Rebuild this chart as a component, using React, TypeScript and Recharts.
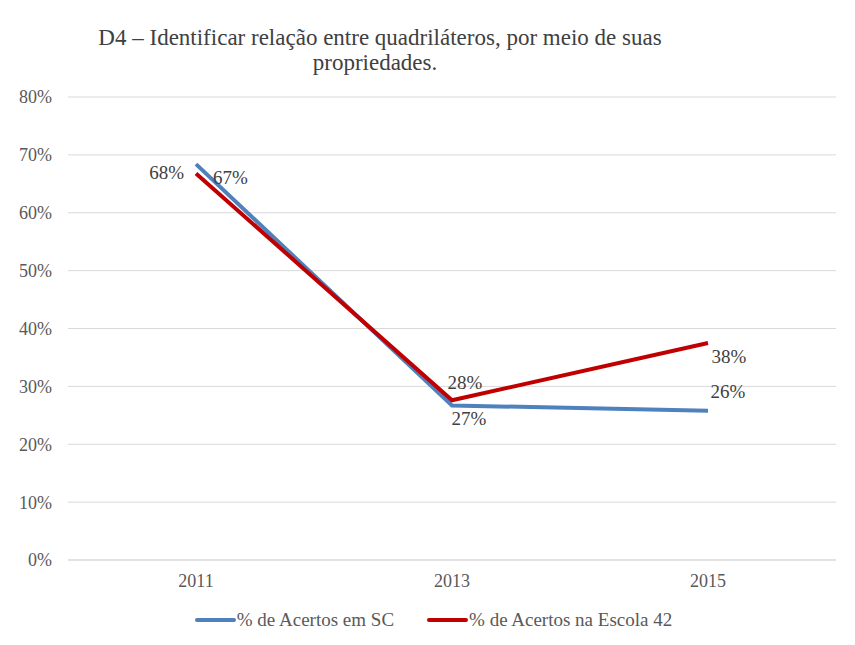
import React from "react";
import { LineChart, Line, XAxis, YAxis, CartesianGrid, LabelList } from "recharts";

const years = ["2011", "2013", "2015"];
const acertosSC = [68.4, 26.7, 25.8];
const acertosEscola = [66.8, 27.6, 37.5];
const yTicks = [0, 10, 20, 30, 40, 50, 60, 70, 80];

const data = years.map((year, i) => ({
  year,
  sc: acertosSC[i],
  escola: acertosEscola[i],
}));

const serif = 'Liberation Serif, Tinos, Times New Roman, Times, DejaVu Serif, serif';

// label offsets (dx, dy, anchor) per point
const scLabelPos = [
  { dx: -12, dy: 8, anchor: "end" },
  { dx: 17, dy: 13, anchor: "middle" },
  { dx: 20, dy: -19, anchor: "middle" },
];
const escolaLabelPos = [
  { dx: 17, dy: 4, anchor: "start" },
  { dx: 13, dy: -18, anchor: "middle" },
  { dx: 21, dy: 14, anchor: "middle" },
];

function makeLabel(pos: { dx: number; dy: number; anchor: string }[]) {
  return (props: any) => {
    const { x, y, value, index } = props;
    const p = pos[index];
    return (
      <text
        x={x + p.dx}
        y={y + p.dy}
        textAnchor={p.anchor}
        dominantBaseline="central"
        style={{ fontFamily: serif }}
        fontSize={19}
        fill="#404040"
      >
        {Math.round(value)}%
      </text>
    );
  };
}

function LegendContent() {
  const items = [
    { label: "% de Acertos em SC", color: "#4f81bd" },
    { label: "% de Acertos na Escola 42", color: "#c00000" },
  ];
  return (
    <div style={{ display: "flex", justifyContent: "center", gap: 33, fontSize: 19, color: "#595959", paddingLeft: 12 }}>
      {items.map((it) => (
        <div key={it.label} style={{ display: "flex", alignItems: "center" }}>
          <svg width={41} height={8} style={{ marginRight: 1 }}>
            <line x1={2} y1={4} x2={39} y2={4} stroke={it.color} strokeWidth={4} strokeLinecap="round" />
          </svg>
          <span>{it.label}</span>
        </div>
      ))}
    </div>
  );
}

const tickStyle = { fontSize: 18, fill: "#595959", style: { fontFamily: serif } };

export default function App() {
  return (
    <div style={{ position: "relative", width: 855, height: 645, margin: -8, background: "#fff", overflow: "hidden", fontFamily: serif }}>
      <div
        style={{
          position: "absolute",
          left: 4,
          top: 7,
          width: 849,
          height: 660,
          border: "1px solid #d9d9d9",
          boxSizing: "border-box",
        }}
      />
      <div
        style={{
          position: "absolute",
          left: 60,
          width: 640,
          top: 25,
          textAlign: "center",
          fontSize: 23,
          lineHeight: "25px",
          color: "#404040",
          whiteSpace: "nowrap",
        }}
      >
        D4 – Identificar relação entre quadriláteros, por meio de suas
        <br />
        <span style={{ position: "relative", left: -5 }}>propriedades.</span>
      </div>
      <div style={{ position: "absolute", left: 0, top: 0 }}>
        <LineChart width={855} height={645} data={data} margin={{ top: 97, right: 19, bottom: 55, left: 8 }}>
          <CartesianGrid horizontal vertical={false} stroke="#d9d9d9" strokeWidth={1} />
          <XAxis
            dataKey="year"
            padding={{ left: 128, right: 128 }}
            tickLine={false}
            axisLine={{ stroke: "#d9d9d9" }}
            tickMargin={8}
            tick={tickStyle}
          />
          <YAxis
            width={60}
            domain={[0, 80]}
            ticks={yTicks}
            tickFormatter={(v: number) => `${v}%`}
            tickLine={false}
            axisLine={false}
            tickMargin={10}
            tick={tickStyle}
          />
          <Line
            dataKey="sc"
            stroke="#4f81bd"
            strokeWidth={4}
            dot={false}
            type="linear"
            isAnimationActive={false}
          >
            <LabelList dataKey="sc" content={makeLabel(scLabelPos)} />
          </Line>
          <Line
            dataKey="escola"
            stroke="#c00000"
            strokeWidth={4}
            dot={false}
            type="linear"
            isAnimationActive={false}
          >
            <LabelList dataKey="escola" content={makeLabel(escolaLabelPos)} />
          </Line>
        </LineChart>
      </div>
      <div style={{ position: "absolute", left: 0, width: 855, top: 609 }}>
        <LegendContent />
      </div>
    </div>
  );
}
